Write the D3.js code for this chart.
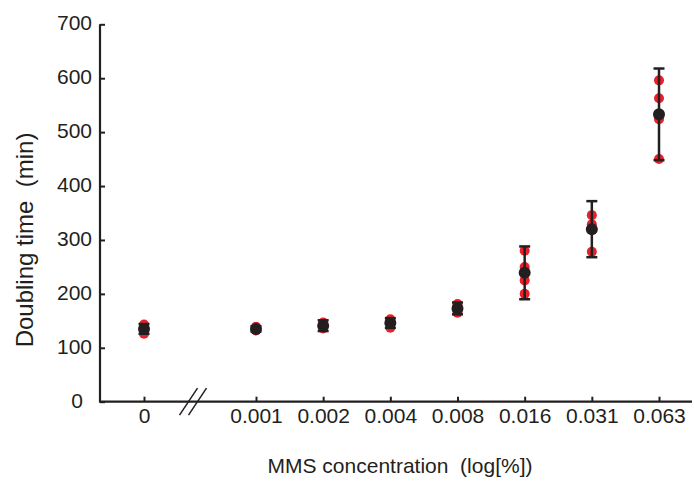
<!DOCTYPE html>
<html>
<head>
<meta charset="utf-8">
<script src="https://d3js.org/d3.v7.min.js"></script>
<style>
  body { margin: 0; background: #fff; }
  svg text { font-family: "Liberation Sans", Arial, Helvetica, sans-serif; fill: #231f20; }
</style>
</head>
<body>
<div id="chart"></div>
<script>
// -----------------------------------------
// DATA
// -----------------------------------------
var concLabels = ["0", "0.001", "0.002", "0.004", "0.008", "0.016", "0.031", "0.063"];
// individual replicates (red)
var replicates = [
  [143, 126, 138, 131],
  [139, 132, 136, 134],
  [147, 136, 142, 140],
  [153, 148, 137, 146],
  [181, 176, 165, 171],
  [280, 250, 240, 225, 200],
  [346, 329, 320, 278],
  [596, 563, 524, 450]
];
// mean and error (black)
var means  = [135, 135, 141, 146, 173, 239, 320, 533];
var errors = [9, 5, 10, 9, 11, 49, 52, 85];
var yTicks = [0, 100, 200, 300, 400, 500, 600, 700];

function drawChart() {
// -----------------------------------------
// FORMAT
// -----------------------------------------
var W = 694, H = 483;
var ink = "#231f20";
var red = "#e8202a";
var padL = 100, padB = 401.7, padT = 24.3, padR = 692;
var tickFont = "21px";

var svg = d3.select("#chart").append("svg")
  .attr("width", W)
  .attr("height", H);

// scales
var xMain = d3.scalePoint()
  .domain(concLabels.slice(1))
  .range([256, 659]);
var zeroGap = 112; // broken part of the axis before the 0 point
var xPos = function(lab) {
  return lab === "0" ? xMain(concLabels[1]) - zeroGap : xMain(lab);
};
var x = d3.scaleOrdinal()
  .domain(concLabels)
  .range(concLabels.map(xPos));

var y = d3.scaleLinear()
  .domain([0, 700])
  .range([padB, padT]);

// -----------------------------------------
// AXES
// -----------------------------------------
var yAxis = svg.append("g")
  .attr("transform", "translate(" + padL + ",0)")
  .call(d3.axisLeft(y).tickValues(yTicks).tickSize(-5).tickSizeOuter(0).tickPadding(8));
yAxis.select(".domain").remove();
yAxis.selectAll(".tick line").attr("stroke", ink).attr("stroke-width", 2);
yAxis.selectAll(".tick text")
  .style("font-size", tickFont)
  .attr("dy", "0.27em")
  .attr("x", function(d) { return d === 0 ? -17 : -8; });

var xAxis = svg.append("g")
  .attr("transform", "translate(0," + padB + ")")
  .call(d3.axisBottom(x).tickSize(-5).tickSizeOuter(0).tickPadding(6));
xAxis.select(".domain").remove();
xAxis.selectAll(".tick line").attr("stroke", ink).attr("stroke-width", 2);
xAxis.selectAll(".tick text").style("font-size", tickFont);

// axis lines
svg.append("path")
  .attr("d", "M" + padL + "," + padT + "V" + padB + "H" + padR)
  .attr("fill", "none")
  .attr("stroke", ink)
  .attr("stroke-width", 2.2);

// break marks //
var bx = (xPos("0") + xPos("0.001")) / 2 - 7;
[-4.5, 4.5].forEach(function(o) {
  svg.append("line")
    .attr("x1", bx + o - 9).attr("y1", padB + 13.5)
    .attr("x2", bx + o + 9).attr("y2", padB - 13.5)
    .attr("stroke", ink)
    .attr("stroke-width", 1.5);
});

// titles
svg.append("text")
  .attr("x", 400)
  .attr("y", 473)
  .attr("text-anchor", "middle")
  .style("font-size", "21px")
  .attr("xml:space", "preserve")
  .text("MMS concentration  (log[%])");

svg.append("text")
  .attr("transform", "translate(33,240) rotate(-90)")
  .attr("text-anchor", "middle")
  .style("font-size", "24px")
  .attr("xml:space", "preserve")
  .text("Doubling time  (min)");

// -----------------------------------------
// MARKS
// -----------------------------------------
var groups = svg.append("g").selectAll("g")
  .data(concLabels.map(function(lab, i) {
    return { lab: lab, reps: replicates[i], mean: means[i], err: errors[i] };
  }))
  .join("g")
  .attr("transform", function(d) { return "translate(" + x(d.lab) + ",0)"; });

// replicates
groups.selectAll("circle.rep")
  .data(function(d) { return d.reps; })
  .join("circle")
  .attr("class", "rep")
  .attr("cx", 0)
  .attr("cy", function(v) { return y(v); })
  .attr("r", 5)
  .attr("fill", red);

// error bars
groups.append("line")
  .attr("x1", 0).attr("x2", 0)
  .attr("y1", function(d) { return y(d.mean + d.err); })
  .attr("y2", function(d) { return y(d.mean - d.err); })
  .attr("stroke", ink)
  .attr("stroke-width", 2.5);
groups.selectAll("line.cap")
  .data(function(d) { return [d.mean + d.err, d.mean - d.err]; })
  .join("line")
  .attr("class", "cap")
  .attr("x1", -5.5).attr("x2", 5.5)
  .attr("y1", function(v) { return y(v); })
  .attr("y2", function(v) { return y(v); })
  .attr("stroke", ink)
  .attr("stroke-width", 2.5);

// mean
groups.append("circle")
  .attr("cx", 0)
  .attr("cy", function(d) { return y(d.mean); })
  .attr("r", 6)
  .attr("fill", ink);
}

drawChart();
</script>
</body>
</html>
